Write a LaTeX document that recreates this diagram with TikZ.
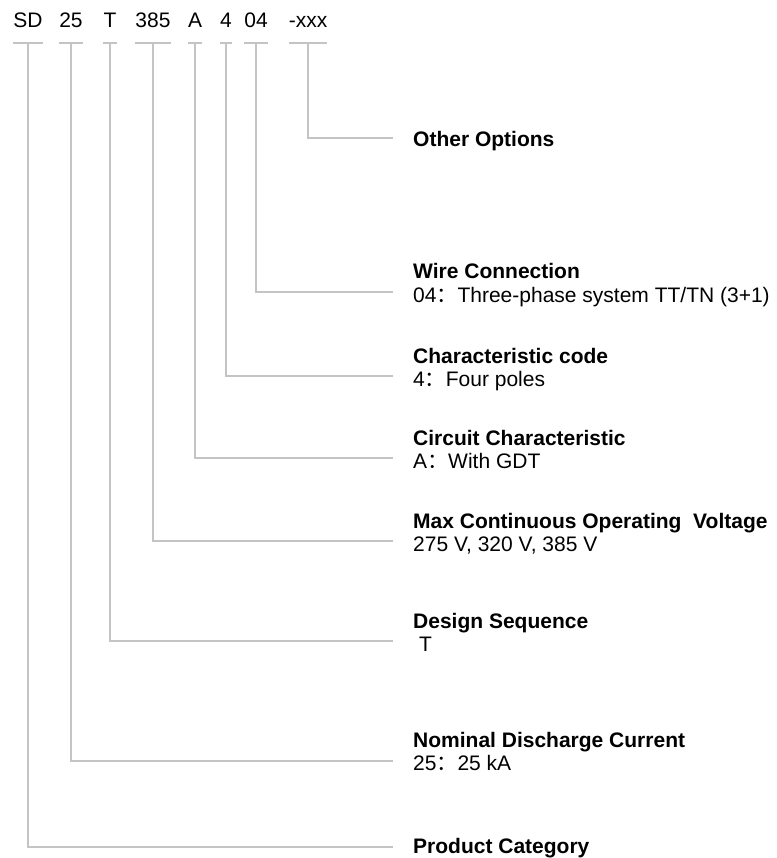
\documentclass[tikz,border=0pt]{standalone}
\usepackage{fontspec}
\setmainfont{Liberation Sans}
\newfontfamily\cjk{Noto Sans CJK SC}
\usepackage{tikz}
\usetikzlibrary{positioning}
\usepackage{xcolor}

\definecolor{leadgray}{HTML}{C4C4C4}
\tikzset{
  code/.style={font=\fontsize{21}{24}\selectfont, inner sep=0pt, anchor=base},
  title/.style={font=\fontsize{21}{24}\selectfont\bfseries, inner sep=0pt, anchor=base west},
  sub/.style={font=\fontsize{21}{24}\selectfont, inner sep=0pt, anchor=base west},
  lead/.style={draw=leadgray, line width=1.5pt}
}

\begin{document}
\begin{tikzpicture}[x=1pt,y=-1pt]
  \useasboundingbox (0,0) rectangle (776,858);

  % model code
  \node[code] (sd)  at (28,28)  {SD};
  \node[code] (cur) at (71,28)  {25};
  \node[code] (seq) at (110,28) {T};
  \node[code] (vol) at (153,28) {385};
  \node[code] (cir) at (195,28) {A};
  \node[code] (pol) at (226,28) {4};
  \node[code] (wir) at (256,28) {04};
  \node[code] (opt) at (308,28) {-xxx};

  \coordinate (ul) at (0,43);

  % descriptions
  \node[title] (opt-t) at (413,147) {Other Options};

  \node[title] (wir-t) at (413,279) {Wire Connection};
  \node[sub]   (wir-s) at (413,302) {04{\cjk ：}Three-phase system TT/TN (3+1)};

  \node[title] (pol-t) at (413,363) {Characteristic code};
  \node[sub]   (pol-s) at (413,386) {4{\cjk ：}Four poles};

  \node[title] (cir-t) at (413,445) {Circuit Characteristic};
  \node[sub]   (cir-s) at (413,468) {A{\cjk ：}With GDT};

  \node[title] (vol-t) at (413,528) {Max Continuous Operating\ \ Voltage};
  \node[sub]   (vol-s) at (413,551) {275 V, 320 V, 385 V};

  \node[title] (seq-t) at (413,628) {Design Sequence};
  \node[sub]   (seq-s) at (413,651) {\ T};

  \node[title] (cur-t) at (413,747) {Nominal Discharge Current};
  \node[sub]   (cur-s) at (413,770) {25{\cjk ：}25 kA};

  \node[title] (sd-t) at (413,853) {Product Category};

  % line ends
  \coordinate (opt-e) at (393,138);
  \coordinate (wir-e) at (393,292);
  \coordinate (pol-e) at (393,376);
  \coordinate (cir-e) at (393,458);
  \coordinate (vol-e) at (393,541);
  \coordinate (seq-e) at (393,641);
  \coordinate (cur-e) at (393,761);
  \coordinate (sd-e)  at (393,847);

  % leaders
  \foreach \c in {sd,cur,seq,vol,cir,pol,wir,opt}{
    \draw[lead] (\c.west |- ul) -- (\c.east |- ul);
    \draw[lead] (\c |- ul) |- (\c-e);
  }
\end{tikzpicture}
\end{document}
